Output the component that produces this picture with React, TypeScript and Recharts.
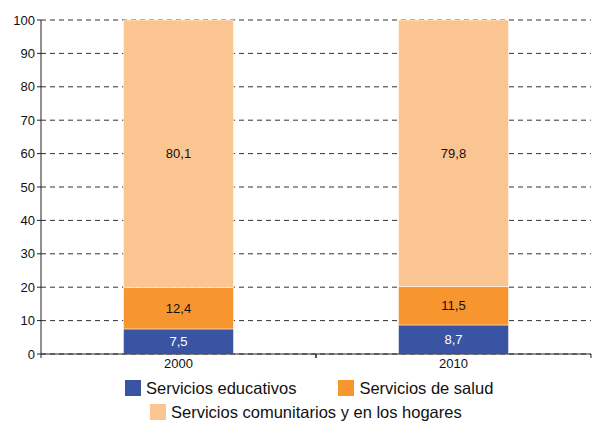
import React from 'react';
import { BarChart, Bar, XAxis, YAxis, CartesianGrid, LabelList } from 'recharts';

const years = ['2000', '2010'];
const educativos = [7.5, 8.7];
const salud = [12.4, 11.5];
const comunitarios = [80.1, 79.8];
const yTicks = [0, 10, 20, 30, 40, 50, 60, 70, 80, 90, 100];

const seriesNames = {
  educativos: 'Servicios educativos',
  salud: 'Servicios de salud',
  comunitarios: 'Servicios comunitarios y en los hogares'
};

const colors = {
  educativos: '#3A54A4',
  salud: '#F7962F',
  comunitarios: '#FBC592'
};

const data = years.map((year, i) => ({
  year,
  educativos: educativos[i],
  salud: salud[i],
  comunitarios: comunitarios[i]
}));

const font = '"Liberation Sans", Arial, sans-serif';
const fmt = (v: any) => String(v).replace('.', ',');

// category ticks: label at centre, tick marks at the band edges
// (recharts hands us y = axis + tickSize 6 + tickMargin 2)
const YearTick = ({ x, y, payload }: any) => {
  const half = payload && payload.offset ? payload.offset : 137.5;
  const axisY = y - 8;
  return (
    <g>
      <line x1={x - half} x2={x - half} y1={axisY} y2={axisY + 4} stroke="#222" />
      <line x1={x + half} x2={x + half} y1={axisY} y2={axisY + 4} stroke="#222" />
      <text x={x} y={axisY + 14} textAnchor="middle" fill="#111" fontSize={13} fontFamily={font}>
        {payload.value}
      </text>
    </g>
  );
};

const LegendItem = ({ color, label, style }: any) => (
  <span style={{ display: 'inline-flex', alignItems: 'center', ...style }}>
    <span style={{ width: 16, height: 16, background: color, display: 'inline-block', marginRight: 5 }} />
    <span>{label}</span>
  </span>
);

export default function App() {
  const labelStyle = { fontSize: 13, fontFamily: font };
  return (
    <div style={{ position: 'absolute', left: 0, top: 0, width: 593, height: 421, background: '#fff' }}>
      <BarChart
        width={593}
        height={421}
        data={data}
        margin={{ top: 20, right: 2, bottom: 37, left: 0 }}
        barCategoryGap="30%"
      >
        <CartesianGrid vertical={false} stroke="#333" strokeDasharray="5 4" />
        <XAxis
          dataKey="year"
          height={30}
          axisLine={{ stroke: '#222' }}
          tickLine={false}
          tick={<YearTick />}
        />
        <YAxis
          domain={[0, 100]}
          ticks={yTicks}
          width={41}
          interval={0}
          axisLine={{ stroke: '#222' }}
          tickLine={{ stroke: '#222' }}
          tickSize={4}
          tick={{ fill: '#111', fontSize: 13, fontFamily: font }}
        />
        <Bar dataKey="educativos" name={seriesNames.educativos} stackId="a" fill={colors.educativos} stroke="#ffffff" strokeOpacity={0.5} isAnimationActive={false}>
          <LabelList dataKey="educativos" position="center" formatter={fmt} fill="#ffffff" style={labelStyle} />
        </Bar>
        <Bar dataKey="salud" name={seriesNames.salud} stackId="a" fill={colors.salud} stroke="#ffffff" strokeOpacity={0.5} isAnimationActive={false}>
          <LabelList dataKey="salud" position="center" formatter={fmt} fill="#111" style={labelStyle} />
        </Bar>
        <Bar dataKey="comunitarios" name={seriesNames.comunitarios} stackId="a" fill={colors.comunitarios} stroke="#ffffff" strokeOpacity={0.5} isAnimationActive={false}>
          <LabelList dataKey="comunitarios" position="center" formatter={fmt} fill="#111" style={labelStyle} />
        </Bar>
      </BarChart>
      <div style={{ fontFamily: font, fontSize: 16.5, color: '#111', lineHeight: '16px' }}>
        <div style={{ position: 'absolute', left: 125, top: 380, whiteSpace: 'nowrap' }}>
          <LegendItem color={colors.educativos} label={seriesNames.educativos} />
          <LegendItem color={colors.salud} label={seriesNames.salud} style={{ marginLeft: 42 }} />
        </div>
        <div style={{ position: 'absolute', left: 150, top: 404, whiteSpace: 'nowrap' }}>
          <LegendItem color={colors.comunitarios} label={seriesNames.comunitarios} />
        </div>
      </div>
    </div>
  );
}
